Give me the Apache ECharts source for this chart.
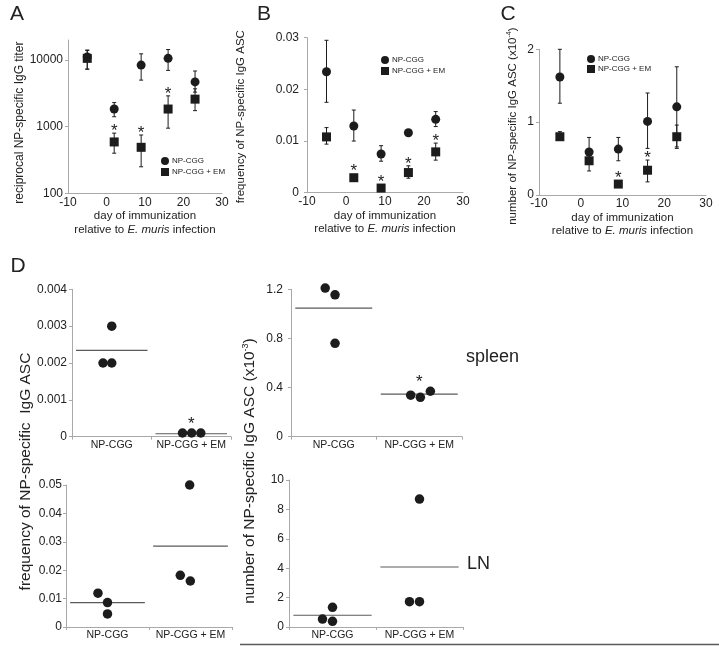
<!DOCTYPE html>
<html><head><meta charset="utf-8">
<script src="https://cdn.jsdelivr.net/npm/echarts@6/dist/echarts.min.js"></script>
<style>html,body{margin:0;padding:0;background:#fff}#c{width:719px;height:646px}</style>
</head><body><div id="c"></div>
<script>
// ---------------- data ----------------
const days = [-5, 2, 9, 16, 23];
const dayTicks = [-10, 0, 10, 20, 30];
const seriesNames = ['NP-CGG', 'NP-CGG + EM'];
const groups = ['NP-CGG', 'NP-CGG + EM'];

// Panel A: reciprocal NP-specific IgG titer (log)
const aCtrl   = [11100, 1840, 8400, 10600, 4700];
const aCtrlLo = [7300, 1410, 5000, 7000, 3300];
const aCtrlHi = [14100, 2300, 12400, 14400, 6850];
const aEm     = [10600, 590, 490, 1840, 2590];
const aEmLo   = [7300, 400, 250, 950, 1740];
const aEmHi   = [14000, 800, 750, 2900, 3700];
const aSig    = [false, true, true, true, false];
const aTicks  = [100, 1000, 10000];

// Panel B: frequency of NP-specific IgG ASC
const bCtrl   = [0.0234, 0.0129, 0.0075, 0.0116, 0.0142];
const bCtrlLo = [0.0175, 0.0100, 0.0061, 0.0113, 0.0128];
const bCtrlHi = [0.0295, 0.0160, 0.0091, 0.0119, 0.0157];
const bEm     = [0.0108, 0.0029, 0.0009, 0.0039, 0.0079];
const bEmLo   = [0.0094, 0.0028, 0.0008, 0.0028, 0.0063];
const bEmHi   = [0.0126, 0.0030, 0.0010, 0.0052, 0.0096];
const bSig    = [false, true, true, true, true];

// Panel C: number of NP-specific IgG ASC (x10^-4)
const cCtrl   = [1.62, 0.59, 0.63, 1.01, 1.21];
const cCtrlLo = [1.26, 0.45, 0.47, 0.64, 0.66];
const cCtrlHi = [2.00, 0.79, 0.79, 1.40, 1.76];
const cEm     = [0.80, 0.47, 0.15, 0.34, 0.80];
const cEmLo   = [0.75, 0.33, 0.14, 0.18, 0.64];
const cEmHi   = [0.87, 0.55, 0.16, 0.48, 0.96];
const cSig    = [false, false, true, true, false];

// Panel D (individual mice + mean lines)
const d1Ctrl = [0.002, 0.002, 0.003];   const d1Em = [0.0001, 0.0001, 0.0001];  const d1Mean = [0.00234, 0.00008]; const d1Sig = [false, true];
const d2Ctrl = [1.21, 1.155, 0.76];     const d2Em = [0.338, 0.321, 0.37];      const d2Mean = [1.047, 0.346];     const d2Sig = [false, true];
const d3Ctrl = [0.0119, 0.0086, 0.0046]; const d3Em = [0.050, 0.0182, 0.0162]; const d3Mean = [0.0086, 0.0285];   const d3Sig = [false, false];
const d4Ctrl = [1.34, 0.54, 0.39];      const d4Em = [8.7, 1.72, 1.72];         const d4Mean = [0.8, 4.08];        const d4Sig = [false, false];

// ---------------- layout / style ----------------
const FONT = '"Liberation Sans", Arial, Helvetica, sans-serif';
const INK = '#1c1c1c';
const TXT = '#222';
const AXIS = '#a9a9a9';
// horizontal jitter of dots within a category (layout only)
const jit = {
  d1: [[-0.11, 0, 0], [-0.11, 0.005, 0.12]],
  d2: [[-0.1, 0.015, 0.015], [-0.1, 0.013, 0.13]],
  d3: [[-0.115, 0, 0], [-0.01, -0.123, -0.002]],
  d4: [[0, -0.115, 0], [0, -0.115, 0]]
};

const grids = [
  {left: 68,  top: 40,    width: 154, height: 153.3},  // A
  {left: 307, top: 37.7,  width: 156, height: 155},    // B
  {left: 539, top: 49.3,  width: 167, height: 145.7},  // C
  {left: 72,  top: 289.3, width: 159, height: 147.4},  // D1
  {left: 291, top: 289.3, width: 171, height: 147.4},  // D2
  {left: 66,  top: 485,   width: 166, height: 142},    // D3
  {left: 289, top: 480,   width: 174, height: 147}     // D4
].map(g => Object.assign({outerBoundsMode: 'none', containLabel: false}, g));

const axisLine = {show: true, onZero: false, lineStyle: {color: AXIS, width: 1}};
const yTick = {show: true, length: 3, inside: false, lineStyle: {color: AXIS}};

const xTitle = {
  name: 'day of immunization\nrelative to {i|E. muris} infection',
  nameLocation: 'middle',
  nameTextStyle: {fontSize: 11.5, lineHeight: 13.5, color: TXT, fontFamily: FONT,
    rich: {i: {fontStyle: 'italic', fontSize: 11.5, lineHeight: 13.5, color: TXT, fontFamily: FONT}}}
};

function dayAxis(gi, gap) {
  return Object.assign({}, xTitle, {
    type: 'value', gridIndex: gi, min: dayTicks[0], max: dayTicks[dayTicks.length - 1],
    interval: dayTicks[1] - dayTicks[0], nameGap: gap,
    axisLine: axisLine, axisTick: {show: false}, splitLine: {show: false},
    axisLabel: {fontSize: 12, color: TXT, margin: 3, fontFamily: FONT}
  });
}

const xAxes = [dayAxis(0, 11.5), dayAxis(1, 12.5), dayAxis(2, 10)];
for (let k = 0; k < 4; k++) {
  xAxes.push({type: 'category', gridIndex: 3 + k, data: groups, boundaryGap: true,
    axisLine: axisLine, axisTick: {show: true, length: 3, lineStyle: {color: AXIS}},
    axisLabel: {fontSize: 10.5, color: TXT, margin: 3, fontFamily: FONT, interval: 0},
    splitLine: {show: false}});
}
for (let k = 0; k < 4; k++) {
  xAxes.push({type: 'value', gridIndex: 3 + k, min: 0, max: 2, show: false});
}

function valAxis(gi, max, interval, margin, extra) {
  return Object.assign({type: 'value', gridIndex: gi, min: 0, max: max, interval: interval,
    axisLine: axisLine, axisTick: yTick, splitLine: {show: false},
    axisLabel: {fontSize: 12, color: TXT, margin: margin, fontFamily: FONT}}, extra || {});
}

const yAxes = [
  {type: 'log', logBase: 10, gridIndex: 0, min: 100, max: 20000,
   axisLine: axisLine, splitLine: {show: false},
   axisTick: Object.assign({customValues: aTicks}, yTick),
   axisLabel: {customValues: aTicks, fontSize: 12, color: TXT, margin: 5, fontFamily: FONT,
     formatter: v => String(Math.round(v))},
   name: 'reciprocal NP-specific IgG titer', nameLocation: 'middle', nameGap: 35,
   nameTextStyle: {fontSize: 12, color: TXT, fontFamily: FONT, padding: [0, 12, 0, 0]}},
  valAxis(1, 0.03, 0.01, 8, {name: 'frequency of NP-specific IgG ASC', nameLocation: 'middle', nameGap: 60,
    nameTextStyle: {fontSize: 11.5, color: TXT, fontFamily: FONT, padding: [0, 3, 0, 0]}}),
  valAxis(2, 2, 1, 5, {name: '{a|number of NP-specific IgG ASC (x10}{s|-4}{a|)}', nameLocation: 'middle', nameGap: 19.5,
    nameTextStyle: {color: TXT, fontFamily: FONT, padding: [0, 8, 0, 0], rich: {
      a: {fontSize: 11.5, lineHeight: 14, color: TXT, fontFamily: FONT},
      s: {fontSize: 7, lineHeight: 8, verticalAlign: 'top', color: TXT, fontFamily: FONT}}}}),
  valAxis(3, 0.004, 0.001, 5),
  valAxis(4, 1.2, 0.4, 8),
  valAxis(5, 0.05, 0.01, 4),
  valAxis(6, 10, 2, 5)
];

const series = [];

function errSeries(xi, yi, xs, lo, hi) {
  return {type: 'custom', xAxisIndex: xi, yAxisIndex: yi, silent: true, z: 1, clip: false,
    encode: {x: 0, y: [1, 2]},
    data: xs.map((x, i) => [x, lo[i], hi[i]]),
    renderItem: (params, api) => {
      const x = api.value(0);
      const p1 = api.coord([x, api.value(1)]), p2 = api.coord([x, api.value(2)]);
      const cw = 2, st = {stroke: INK, lineWidth: 1};
      return {type: 'group', children: [
        {type: 'line', shape: {x1: p1[0], y1: p1[1], x2: p2[0], y2: p2[1]}, style: st},
        {type: 'line', shape: {x1: p1[0] - cw, y1: p1[1], x2: p1[0] + cw, y2: p1[1]}, style: st},
        {type: 'line', shape: {x1: p2[0] - cw, y1: p2[1], x2: p2[0] + cw, y2: p2[1]}, style: st}
      ]};
    }};
}

function starSeries(xi, yi, xs, vals, hi, sig, half, gap) {
  const data = [];
  xs.forEach((x, i) => { if (sig[i]) data.push([x, vals[i], hi ? hi[i] : vals[i]]); });
  return {type: 'custom', xAxisIndex: xi, yAxisIndex: yi, silent: true, z: 3, clip: false,
    encode: {x: 0, y: [1, 2]}, data: data,
    renderItem: (params, api) => {
      const x = api.value(0);
      const pv = api.coord([x, api.value(1)]), ph = api.coord([x, api.value(2)]);
      const top = Math.min(ph[1], pv[1] - half);
      return {type: 'text', x: pv[0], y: top - gap + 4,
        style: {text: '*', fontSize: 17, fill: INK, align: 'center', verticalAlign: 'middle', fontFamily: FONT}};
    }};
}

function scatter(name, xi, yi, data, symbol, size) {
  return {type: 'scatter', name: name, xAxisIndex: xi, yAxisIndex: yi, data: data, clip: false,
    symbol: symbol, symbolSize: size, itemStyle: {color: INK, opacity: 1}, z: 2, silent: true};
}

function timePanel(idx, ctrl, ctrlLo, ctrlHi, em, emLo, emHi, sig) {
  series.push(errSeries(idx, idx, days, ctrlLo, ctrlHi));
  series.push(errSeries(idx, idx, days, emLo, emHi));
  series.push(scatter(seriesNames[0], idx, idx, days.map((d, i) => [d, ctrl[i]]), 'circle', 9));
  series.push(scatter(seriesNames[1], idx, idx, days.map((d, i) => [d, em[i]]), 'rect', 9));
  series.push(starSeries(idx, idx, days, em, emHi, sig, 4.5, 5.5));
}
timePanel(0, aCtrl, aCtrlLo, aCtrlHi, aEm, aEmLo, aEmHi, aSig);
timePanel(1, bCtrl, bCtrlLo, bCtrlHi, bEm, bEmLo, bEmHi, bSig);
timePanel(2, cCtrl, cCtrlLo, cCtrlHi, cEm, cEmLo, cEmHi, cSig);

function dotPanel(k, ctrl, em, mean, sig, jt) {
  const xi = 7 + k, yi = 3 + k;
  const pts = [];
  [ctrl, em].forEach((arr, g) => arr.forEach((v, j) => pts.push([g + 0.5 + jt[g][j], v])));
  series.push(scatter('dots' + k, xi, yi, pts, 'circle', 9.5));
  series.push({type: 'custom', xAxisIndex: xi, yAxisIndex: yi, silent: true, z: 1, clip: false,
    encode: {x: 0, y: 1}, data: mean.map((m, g) => [g, m]),
    renderItem: (params, api) => {
      const g = api.value(0), m = api.value(1);
      const p1 = api.coord([g + 0.05, m]), p2 = api.coord([g + 0.95, m]);
      return {type: 'line', shape: {x1: p1[0], y1: p1[1], x2: p2[0], y2: p2[1]},
        style: {stroke: '#5a5a5a', lineWidth: 1.2}};
    }});
  const maxes = [Math.max(...ctrl), Math.max(...em)];
  series.push(starSeries(xi, yi, [0.5, 1.5], maxes, null, sig, 4.75, 8));
}
dotPanel(0, d1Ctrl, d1Em, d1Mean, d1Sig, jit.d1);
dotPanel(1, d2Ctrl, d2Em, d2Mean, d2Sig, jit.d2);
dotPanel(2, d3Ctrl, d3Em, d3Mean, d3Sig, jit.d3);
dotPanel(3, d4Ctrl, d4Em, d4Mean, d4Sig, jit.d4);

function legendAt(left, top, gap) {
  return {left: left, top: top, orient: 'vertical', itemWidth: 8, itemHeight: 8, itemGap: gap,
    selectedMode: false, padding: 0,
    textStyle: {fontSize: 8, color: TXT, fontFamily: FONT, padding: [0, 0, 0, -2]},
    data: [{name: seriesNames[0], icon: 'circle'}, {name: seriesNames[1], icon: 'rect'}]};
}

function label(text, x, y, size, extra) {
  return Object.assign({type: 'text', x: x, y: y, silent: true,
    style: {text: text, fontSize: size, fill: TXT, fontFamily: FONT, align: 'center', verticalAlign: 'middle'}}, extra || {});
}

const graphic = [
  label('A', 17, 14, 21), label('B', 264, 14, 21), label('C', 508, 14, 21), label('D', 18, 266, 21),
  {type: 'text', x: 466, y: 357, silent: true, style: {text: 'spleen', fontSize: 18, fill: TXT, fontFamily: FONT, align: 'left', verticalAlign: 'middle'}},
  {type: 'text', x: 467, y: 564, silent: true, style: {text: 'LN', fontSize: 18, fill: TXT, fontFamily: FONT, align: 'left', verticalAlign: 'middle'}},
  {type: 'text', x: 26, y: 471.5, rotation: Math.PI / 2, silent: true,
    style: {text: 'frequency of NP-specific  IgG ASC', fontSize: 15.5, fill: TXT, fontFamily: FONT, align: 'center', verticalAlign: 'middle'}},
  {type: 'text', x: 250, y: 471, rotation: Math.PI / 2, silent: true,
    style: {text: '{a|number of NP-specific IgG ASC (x10}{s|-3}{a|)}', align: 'center', verticalAlign: 'middle',
      rich: {a: {fontSize: 15.5, lineHeight: 18, fill: TXT, fontFamily: FONT},
             s: {fontSize: 9, lineHeight: 10, verticalAlign: 'top', fill: TXT, fontFamily: FONT}}}},
  {type: 'line', silent: true, shape: {x1: 240, y1: 644.5, x2: 719, y2: 644.5}, style: {stroke: '#5a5a5a', lineWidth: 1.5}}
];

const option = {
  backgroundColor: '#ffffff',
  animation: false,
  textStyle: {fontFamily: FONT},
  grid: grids,
  xAxis: xAxes,
  yAxis: yAxes,
  legend: [legendAt(161, 157, 3), legendAt(381, 56, 3), legendAt(587, 55, 2)],
  series: series,
  graphic: graphic
};

const chart = echarts.init(document.getElementById('c'), null, {renderer: 'canvas'});
chart.setOption(option);
</script>
</body></html>
